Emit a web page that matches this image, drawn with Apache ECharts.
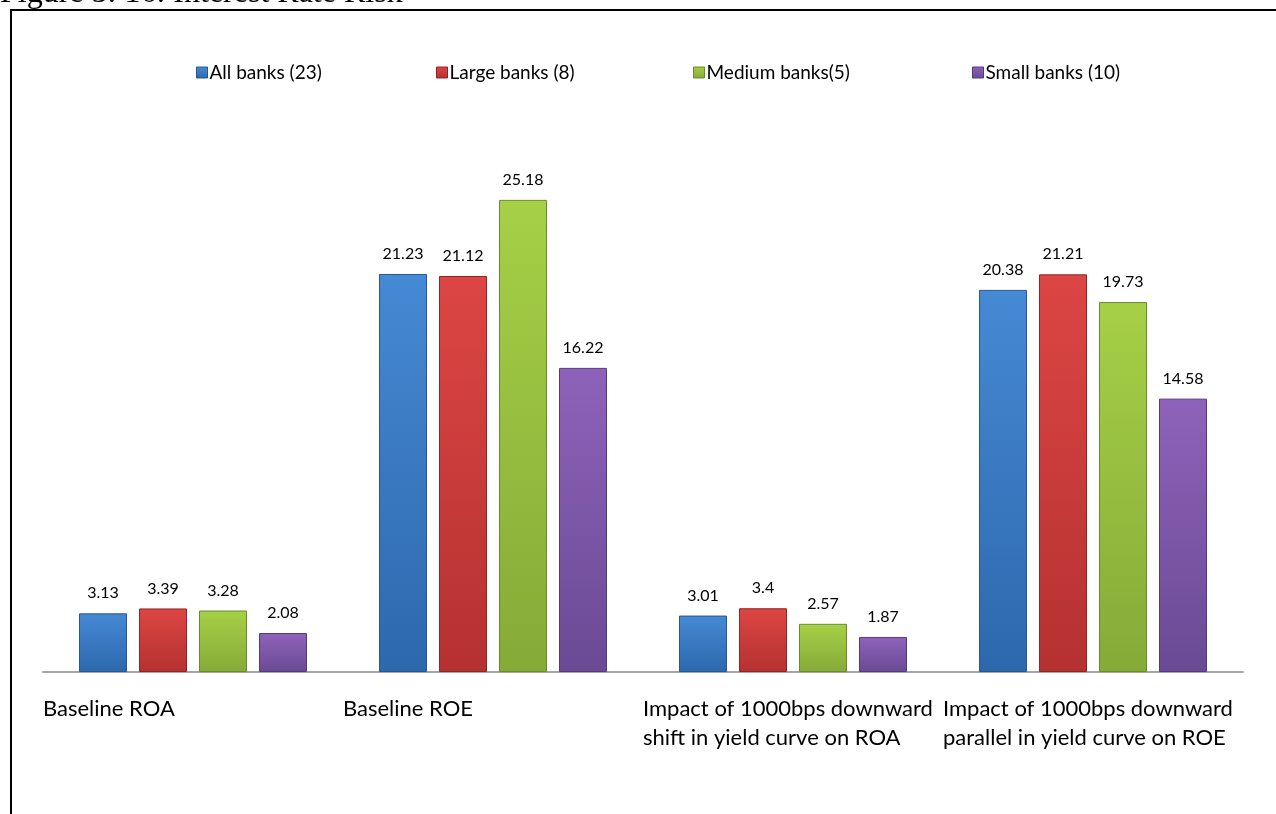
<!DOCTYPE html>
<html>
<head>
<meta charset="utf-8">
<script src="https://cdn.jsdelivr.net/npm/echarts@6/dist/echarts.min.js"></script>
<style>
  html, body { margin: 0; padding: 0; background: #ffffff; }
  #chart { width: 1276px; height: 814px; }
</style>
</head>
<body>
<div id="chart"></div>
<script>
// Interest rate risk indicators by bank size group
const categories = [
  'Baseline ROA',
  'Baseline ROE',
  'Impact of 1000bps downward\nshift in yield curve on ROA',
  'Impact of 1000bps downward\nparallel in yield curve on ROE'
];
const seriesNames = ['All banks (23)', 'Large banks (8)', 'Medium banks(5)', 'Small banks (10)'];
const allBanks    = [3.13, 21.23, 3.01, 20.38];
const largeBanks  = [3.39, 21.12, 3.4, 21.21];
const mediumBanks = [3.28, 25.18, 2.57, 19.73];
const smallBanks  = [2.08, 16.22, 1.87, 14.58];

const seriesData = [allBanks, largeBanks, mediumBanks, smallBanks];
// light top / dark bottom / edge shades for each series
const shades = [
  ['#4689d4', '#2d68ad', '#245892'],
  ['#dc4644', '#b53131', '#8f2626'],
  ['#a6d046', '#86aa38', '#6b8a2c'],
  ['#8e62ba', '#6a4a94', '#553a78']
];
// left offsets of the four legend entries
const legendLefts = [196, 436, 693, 972];

const font = 'Lato, "Noto Sans", sans-serif';

const chart = echarts.init(document.getElementById('chart'), null, { renderer: 'canvas' });

const series = seriesData.map((vals, i) => ({
  name: seriesNames[i],
  type: 'bar',
  xAxisIndex: 0,
  data: vals,
  barGap: '25%',
  barCategoryGap: '24%',
  itemStyle: {
    color: new echarts.graphic.LinearGradient(0, 0, 0, 1, [
      { offset: 0, color: shades[i][0] },
      { offset: 1, color: shades[i][1] }
    ]),
    borderColor: shades[i][2],
    borderWidth: 1
  },
  label: {
    show: true,
    position: 'top',
    distance: 12,
    color: '#000',
    fontFamily: font,
    fontSize: 16
  }
}));

const legends = seriesNames.map((name, i) => ({
  left: legendLefts[i],
  top: 63,
  padding: 0,
  itemWidth: 11,
  itemHeight: 11,
  icon: 'rect',
  textStyle: { fontFamily: font, fontSize: 19, color: '#000', padding: [0, 0, 0, -3] },
  itemStyle: { borderColor: shades[i][2], borderWidth: 1 },
  data: [name]
}));

const option = {
  animation: false,
  backgroundColor: '#ffffff',
  color: shades.map(s => s[1]),
  graphic: [
    {
      type: 'text',
      left: 0,
      top: -22,
      style: {
        text: 'Figure 5: 16: Interest Rate Risk',
        fontFamily: '"Liberation Serif", "DejaVu Serif", serif',
        fontSize: 32,
        fill: '#000'
      }
    },
    {
      type: 'rect',
      shape: { x: 11, y: 10, width: 1300, height: 850 },
      style: { fill: 'none', stroke: '#000', lineWidth: 2 }
    }
  ],
  legend: legends,
  grid: { left: 43, top: 147, width: 1200, height: 525, containLabel: false },
  xAxis: [
    {
      type: 'category',
      data: categories,
      axisLine: { lineStyle: { color: '#a6a6a6', width: 2 } },
      axisTick: { show: false },
      axisLabel: { show: false }
    },
    {
      // category start positions carry the left-aligned labels
      type: 'category',
      position: 'bottom',
      boundaryGap: false,
      data: categories.concat(['']),
      axisLine: { show: false },
      axisTick: { show: false },
      axisLabel: {
        show: true,
        interval: 0,
        align: 'left',
        margin: 22,
        color: '#000',
        fontFamily: font,
        fontSize: 22,
        lineHeight: 29
      }
    }
  ],
  yAxis: {
    type: 'value',
    min: 0,
    max: 28,
    show: false,
    splitLine: { show: false }
  },
  series: series
};

chart.setOption(option);
</script>
</body>
</html>
